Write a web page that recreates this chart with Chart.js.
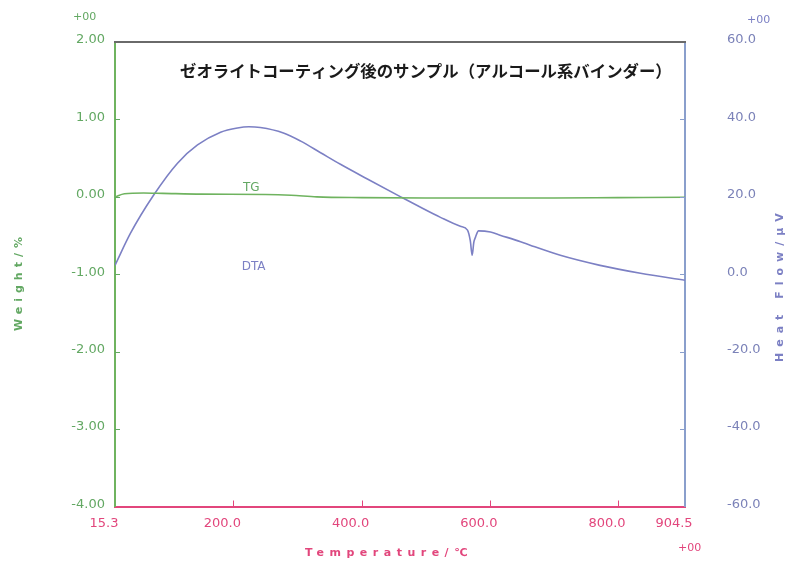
<!DOCTYPE html>
<html>
<head>
<meta charset="utf-8">
<script src="https://cdn.jsdelivr.net/npm/chart.js@4/dist/chart.umd.min.js"></script>
<style>
  html, body { margin: 0; padding: 0; background: #ffffff; }
  #wrap { width: 791px; height: 568px; }
</style>
</head>
<body>
<div id="wrap"><canvas id="c" width="791" height="568"></canvas></div>
<script>
// Axis ticks
const temperatureTicks = [15.3, 200, 400, 600, 800, 904.5];
const weightTicks = [2, 1, 0, -1, -2, -3, -4];
const heatFlowTicks = [60, 40, 20, 0, -20, -40, -60];

// TG curve: weight change (%) vs temperature (°C)
const tgTemps  = [15.3, 30, 60, 90, 150, 250, 290, 330, 400, 500, 600, 700, 800, 904.5];
const tgWeight = [0.00, 0.04, 0.05, 0.045, 0.035, 0.03, 0.02, 0.0, -0.01, -0.015, -0.015, -0.015, -0.01, -0.005];

// DTA curve: heat flow (µV) vs temperature (°C)
const dtaTemps = [15.3, 39.5, 75.4, 112.8, 144, 180, 206.4, 224, 242, 278, 305, 336, 367, 409, 461, 492, 523, 554,
                  565.2, 569.6, 572.5, 575.0, 577.7, 582.4, 601, 616, 648, 663, 710, 772, 835, 904.5];
const dtaHeat  = [2.3, 10.6, 20.4, 28.7, 33.4, 36.7, 37.8, 38.1, 37.9, 36.5, 34.4, 31.4, 28.4, 24.6, 20.0, 17.3, 14.7, 12.4,
                  11.4, 8.6, 4.9, 8.2, 9.6, 11.2, 10.9, 10.1, 8.4, 7.5, 4.9, 2.3, 0.26, -1.55];

const chartTitle = 'ゼオライトコーティング後のサンプル（アルコール系バインダー）';

const GREEN = '#63a863';
const GREEN_LINE = '#6fb35f';
const BLUE = '#7c80c4';
const BLUE_AXIS = '#8a9fcc';
const RED = '#e2467c';
const FONT = '"DejaVu Sans", "Liberation Sans", sans-serif';

const toPoints = (xs, ys) => xs.map((x, i) => ({ x: x, y: ys[i] }));

// Frame top line, inward tick marks and free text
const decorations = {
  id: 'decorations',
  afterDraw(chart) {
    const { ctx, chartArea: a, scales: { x, y, y1 } } = chart;
    ctx.save();

    // top frame line
    ctx.strokeStyle = '#6a6a6a';
    ctx.lineWidth = 2;
    ctx.beginPath();
    ctx.moveTo(a.left - 1, a.top);
    ctx.lineTo(a.right + 1, a.top);
    ctx.stroke();

    // inward tick marks
    ctx.lineWidth = 1;
    ctx.strokeStyle = GREEN;
    weightTicks.slice(1, -1).forEach(v => {
      const p = Math.round(y.getPixelForValue(v)) + 0.5;
      ctx.beginPath(); ctx.moveTo(a.left, p); ctx.lineTo(a.left + 5, p); ctx.stroke();
    });
    ctx.strokeStyle = BLUE_AXIS;
    heatFlowTicks.slice(1, -1).forEach(v => {
      const p = Math.round(y1.getPixelForValue(v)) + 0.5;
      ctx.beginPath(); ctx.moveTo(a.right, p); ctx.lineTo(a.right - 5, p); ctx.stroke();
    });
    ctx.strokeStyle = RED;
    temperatureTicks.slice(1, -1).forEach(v => {
      const p = Math.round(x.getPixelForValue(v)) + 0.5;
      ctx.beginPath(); ctx.moveTo(p, a.bottom); ctx.lineTo(p, a.bottom - 6); ctx.stroke();
    });

    // chart title
    ctx.fillStyle = '#1a1a1a';
    ctx.font = 'bold 16.4px "Noto Sans CJK JP", sans-serif';
    ctx.textBaseline = 'middle';
    ctx.textAlign = 'left';
    ctx.fillText(chartTitle, a.left + 65, 71);

    // curve labels
    ctx.font = '12px ' + FONT;
    ctx.textAlign = 'left';
    ctx.fillStyle = GREEN;
    ctx.fillText('TG', x.getPixelForValue(215), y.getPixelForValue(0.12));
    ctx.fillStyle = BLUE;
    ctx.fillText('DTA', x.getPixelForValue(213), y1.getPixelForValue(2.0));

    // exponent markers
    ctx.font = '11px ' + FONT;
    ctx.fillStyle = GREEN;
    ctx.fillText('+00', 73, 17);
    ctx.fillStyle = BLUE;
    ctx.fillText('+00', 747, 20);
    ctx.fillStyle = RED;
    ctx.fillText('+00', 678, 548);

    // axis titles (letter-spaced)
    ctx.font = 'bold 11px ' + FONT;
    ctx.letterSpacing = '5.5px';
    ctx.fillStyle = RED;
    ctx.fillText('Temperature/℃', 305, 553);

    ctx.save();
    ctx.fillStyle = GREEN;
    ctx.letterSpacing = '5px';
    ctx.translate(19, 331);
    ctx.rotate(-Math.PI / 2);
    ctx.fillText('Weight/%', 0, 0);
    ctx.restore();

    ctx.save();
    ctx.fillStyle = BLUE;
    ctx.letterSpacing = '6px';
    ctx.translate(780, 362);
    ctx.rotate(-Math.PI / 2);
    ctx.fillText('Heat Flow/μV', 0, 0);
    ctx.restore();

    ctx.restore();
  }
};

new Chart(document.getElementById('c'), {
  type: 'line',
  data: {
    datasets: [
      {
        label: 'TG',
        data: toPoints(tgTemps, tgWeight),
        yAxisID: 'y',
        borderColor: GREEN_LINE,
        borderWidth: 1.6,
        pointRadius: 0,
        cubicInterpolationMode: 'monotone'
      },
      {
        label: 'DTA',
        data: toPoints(dtaTemps, dtaHeat),
        yAxisID: 'y1',
        borderColor: BLUE,
        borderWidth: 1.6,
        pointRadius: 0,
        cubicInterpolationMode: 'monotone'
      }
    ]
  },
  options: {
    responsive: false,
    animation: false,
    devicePixelRatio: 1,
    layout: { padding: { top: 42, left: 0, right: 0, bottom: 0 } },
    plugins: {
      legend: { display: false },
      tooltip: { enabled: false },
      title: { display: false }
    },
    scales: {
      x: {
        type: 'linear',
        min: 15.3,
        max: 904.5,
        afterBuildTicks: s => { s.ticks = temperatureTicks.map(v => ({ value: v })); },
        afterFit: s => { s.height = 61.5; },
        grid: { display: false, drawTicks: false },
        border: { display: true, color: RED, width: 2 },
        ticks: {
          color: RED,
          font: { size: 13, family: FONT },
          padding: 9,
          labelOffset: -11,
          maxRotation: 0,
          autoSkip: false,
          callback: v => Number(v).toFixed(1)
        }
      },
      y: {
        type: 'linear',
        position: 'left',
        min: -4,
        max: 2,
        afterBuildTicks: s => { s.ticks = weightTicks.map(v => ({ value: v })); },
        afterFit: s => { s.width = 115; },
        grid: { display: false, drawTicks: false },
        border: { display: true, color: GREEN_LINE, width: 2 },
        ticks: {
          color: GREEN,
          font: { size: 13, family: FONT },
          padding: 10,
          labelOffset: -2,
          autoSkip: false,
          callback: v => Number(v).toFixed(2)
        }
      },
      y1: {
        type: 'linear',
        position: 'right',
        min: -60,
        max: 60,
        afterBuildTicks: s => { s.ticks = heatFlowTicks.map(v => ({ value: v })); },
        afterFit: s => { s.width = 106; },
        // hidden tick length keeps the labels away from the frame
        grid: { display: false, drawTicks: true, tickLength: 40 },
        border: { display: true, color: BLUE_AXIS, width: 2 },
        ticks: {
          color: '#7b82b8',
          font: { size: 13, family: FONT },
          padding: 2,
          labelOffset: -2,
          autoSkip: false,
          callback: v => Number(v).toFixed(1)
        }
      }
    }
  },
  plugins: [decorations]
});
</script>
</body>
</html>
